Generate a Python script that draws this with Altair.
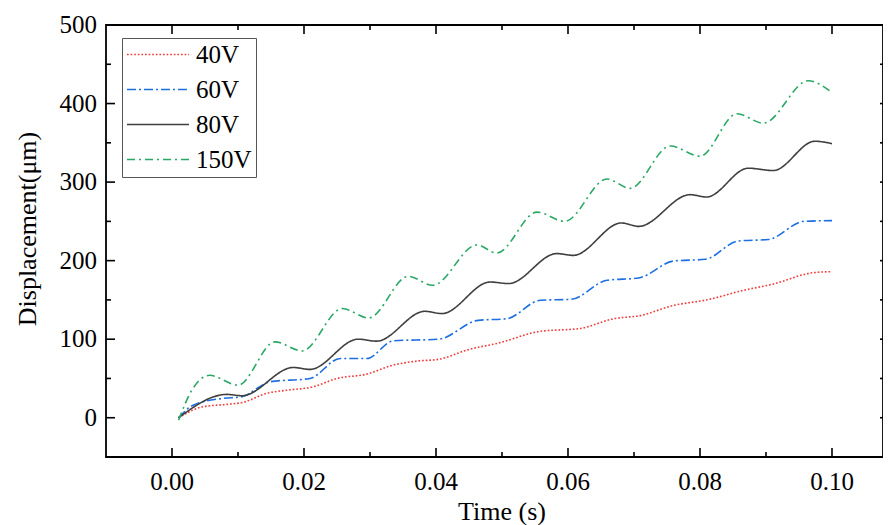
import altair as alt
import pandas as pd

series_names = ["40V", "60V", "80V", "150V"]
series_colors = ["#f23c3c", "#1c6fe3", "#3f3f3f", "#2ba866"]
series_dashes = [[1.7, 1.9], [9, 3, 2, 3], [1, 0], [8, 4, 2, 4]]

t40 = [0.001, 0.0047, 0.0083, 0.0108, 0.0143, 0.0174, 0.0214, 0.025, 0.0295, 0.0335, 0.037, 0.0405,
       0.045, 0.0492, 0.0558, 0.0618, 0.0669, 0.0709, 0.076, 0.081, 0.0865, 0.091, 0.0972, 0.1]
v40 = [0, 14, 17, 19.6, 31, 35, 39.4, 50, 55.5, 67, 72, 74.5,
       87, 94.5, 110, 113.6, 126, 130, 143, 150, 162, 170, 184.7, 186]

t60 = [0.001, 0.0032, 0.0077, 0.0106, 0.0133, 0.0148, 0.0209, 0.0255, 0.0295, 0.0335, 0.0404, 0.0464,
       0.0507, 0.0558, 0.0605, 0.0659, 0.0707, 0.076, 0.0808, 0.0858, 0.0904, 0.0957, 0.1]
v60 = [0, 16, 24.6, 26.7, 39.4, 45.7, 50, 75.4, 75.4, 97.9, 100, 124,
       126, 149.6, 150.8, 175, 177.9, 199.5, 201.7, 225, 227, 250, 251]

t80 = [0.001, 0.0083, 0.0106, 0.0184, 0.0209, 0.0282, 0.031, 0.0383, 0.0409, 0.0482, 0.051,
       0.0583, 0.0608, 0.0681, 0.0707, 0.0785, 0.081, 0.0873, 0.0911, 0.0974, 0.1]
v80 = [0, 29.7, 28, 64, 61.5, 100, 97.5, 135.5, 132.6, 172.8, 170.8,
       209, 206.7, 248, 243.6, 284, 281, 317.7, 314.7, 352, 349]

t150 = [0.001, 0.003, 0.0057, 0.01, 0.0156, 0.0197, 0.0258, 0.0298, 0.0358, 0.0395, 0.0462,
        0.0492, 0.0553, 0.0595, 0.0659, 0.0694, 0.0755, 0.08, 0.0856, 0.0896, 0.0964, 0.1]
v150 = [-3, 35, 54, 41.5, 96.6, 85, 139, 127, 180, 168.6, 220,
        209.7, 261.8, 250, 304, 292, 346, 333, 387, 375, 429, 414]

x_major = [0.0, 0.02, 0.04, 0.06, 0.08, 0.10]
x_labels = ["0.00", "0.02", "0.04", "0.06", "0.08", "0.10"]
x_minor = [0.01, 0.03, 0.05, 0.07, 0.09]
y_major = [0, 100, 200, 300, 400, 500]
y_labels = ["0", "100", "200", "300", "400", "500"]
y_minor = [-50, 50, 150, 250, 350, 450]
x_title = "Time (s)"
y_title = "Displacement(μm)"

rows = []
for name, ts, vs in zip(series_names, [t40, t60, t80, t150], [v40, v60, v80, v150]):
    for t, v in zip(ts, vs):
        rows.append({"t": t, "v": v, "series": name})
df = pd.DataFrame(rows)

W, H = 777, 432
FONT = "Liberation Serif"
xscale = alt.Scale(domain=[-0.01, -0.01 + W / 6600], nice=False, zero=False)
yscale = alt.Scale(domain=[-50, 500], nice=False, zero=False)

legend = alt.Legend(
    title=None, orient="none", legendX=16, legendY=13,
    labelFont=FONT, labelFontSize=25, labelColor="black", labelOffset=6,
    symbolType="stroke", symbolSize=3844, symbolStrokeWidth=1.6, clipHeight=25,
    strokeColor="#555555", fillColor="white", padding=4, rowPadding=9,
)


def xticks(vals, y0, y1):
    return alt.Chart(pd.DataFrame({"t": vals})).mark_rule(color="black", strokeWidth=1.6).encode(
        x=alt.X("t:Q", scale=xscale, axis=None), y=alt.value(y0), y2=alt.value(y1))


def yticks(vals, x0, x1):
    return alt.Chart(pd.DataFrame({"v": vals})).mark_rule(color="black", strokeWidth=1.6).encode(
        y=alt.Y("v:Q", scale=yscale, axis=None), x=alt.value(x0), x2=alt.value(x1))


xlab = alt.Chart(pd.DataFrame({"t": x_major, "label": x_labels})).mark_text(
    font=FONT, fontSize=25, color="black", baseline="top", align="center").encode(
    x=alt.X("t:Q", scale=xscale, axis=None), y=alt.value(H + 13), text="label:N")

ylab = alt.Chart(pd.DataFrame({"v": y_major, "label": y_labels})).mark_text(
    font=FONT, fontSize=25, color="black", baseline="middle", align="right").encode(
    y=alt.Y("v:Q", scale=yscale, axis=None), x=alt.value(-9), text="label:N")

xtitle = alt.Chart(pd.DataFrame({"label": [x_title]})).mark_text(
    font=FONT, fontSize=26, color="black", baseline="alphabetic", align="center").encode(
    x=alt.value(396), y=alt.value(H + 63), text="label:N")

ytitle = alt.Chart(pd.DataFrame({"label": [y_title]})).mark_text(
    font=FONT, fontSize=26, color="black", baseline="middle", align="center", angle=270).encode(
    x=alt.value(-78), y=alt.value(204), text="label:N")

lines = alt.Chart(df).mark_line(interpolate="monotone", strokeWidth=1.6).encode(
    x=alt.X("t:Q", scale=xscale, axis=None),
    y=alt.Y("v:Q", scale=yscale, axis=None),
    color=alt.Color("series:N", scale=alt.Scale(domain=series_names, range=series_colors), legend=legend),
    strokeDash=alt.StrokeDash("series:N", scale=alt.Scale(domain=series_names, range=series_dashes), legend=legend),
)

layers = [
    xticks(x_major, H, H - 9), xticks(x_minor, H, H - 5),
    xticks(x_major, 0, 9), xticks(x_minor, 0, 5),
    yticks(y_major, 0, 9), yticks(y_minor, 0, 5),
    yticks(y_major, W - 3, W), yticks(y_minor, W - 3, W),
    xlab, ylab, xtitle, ytitle,
    lines,
]

chart = alt.layer(*layers).properties(
    width=W, height=H, background="white",
    autosize=alt.AutoSizeParams(type="none"),
    padding={"left": 98, "top": 17, "right": 0, "bottom": 72},
).configure_view(stroke="black", strokeWidth=1.8)

chart.save("out.html", embed_options={"renderer": "svg", "actions": False})
